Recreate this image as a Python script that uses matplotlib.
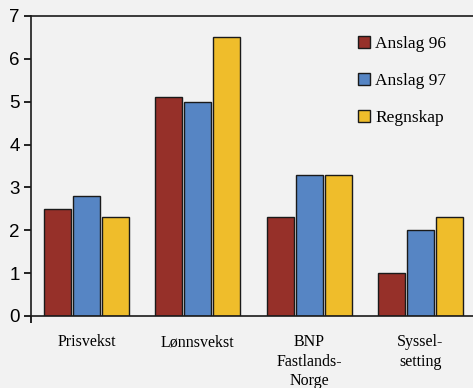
import numpy as np
import matplotlib
matplotlib.use("Agg")
from matplotlib import pyplot as plt

categories = ["Prisvekst", "Lønnsvekst", "BNP\nFastlands-\nNorge", "Syssel-\nsetting"]
series_names = ["Anslag 96", "Anslag 97", "Regnskap"]
anslag_96 = [2.5, 5.1, 2.3, 1.0]
anslag_97 = [2.8, 5.0, 3.3, 2.0]
regnskap = [2.3, 6.5, 3.3, 2.3]
colors = ["#963029", "#5685c4", "#efbd2b"]

bg = "#f2f2f2"
fig = plt.figure(figsize=(4.73, 3.88), dpi=100, facecolor=bg)
ax = fig.add_axes([31 / 473, 1 - 316 / 388, 445 / 473, 300 / 388], facecolor=bg)

x = np.arange(len(categories))
width = 0.243
step = 0.261
for i, (vals, name, c) in enumerate(zip([anslag_96, anslag_97, regnskap], series_names, colors)):
    ax.bar(x + (i - 1) * step, vals, width, color=c, edgecolor="#1a1a1a", linewidth=1.0, label=name)

ax.set_xlim(-0.5, 3.5)
ax.set_ylim(0, 7)
ax.set_yticks(range(0, 8))
ax.set_yticklabels([str(v) for v in range(0, 8)], family="Liberation Sans", fontsize=13.5)
ax.set_xticks(x)
ax.set_xticklabels(categories, family="Liberation Serif", fontsize=11.5, va="top", linespacing=1.3)
ax.tick_params(axis="x", length=0, pad=13)
ax.set_xticks([-0.5], minor=True)
ax.tick_params(axis="x", which="minor", length=5, width=1.2, direction="out")
ax.tick_params(axis="y", length=5, width=1.2, direction="out", pad=3)

for s in ["left", "bottom", "top"]:
    ax.spines[s].set_linewidth(1.2)
    ax.spines[s].set_color("#1a1a1a")
ax.spines["right"].set_visible(False)

leg = ax.legend(loc="upper left", bbox_to_anchor=(0.699, 0.985), frameon=False,
                prop={"family": "Liberation Serif", "size": 12.5},
                handlelength=0.7, handleheight=0.7, handletextpad=0.3, labelspacing=1.2)

fig.savefig("out.png", dpi=100, facecolor=bg)
